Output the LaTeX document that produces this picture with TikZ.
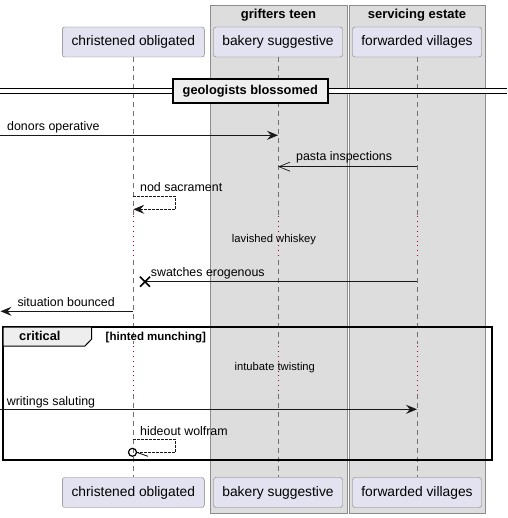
\documentclass[tikz,border=0pt]{standalone}
\usepackage{fontspec}
\setmainfont{Liberation Sans}
\usetikzlibrary{arrows.meta,calc}
\definecolor{boxfill}{HTML}{DDDDDD}
\definecolor{boxline}{HTML}{8C8C8C}
\definecolor{partfill}{HTML}{E2E2F0}
\definecolor{partline}{HTML}{7A7A7A}
\definecolor{lifeline}{HTML}{707070}
\definecolor{delayred}{HTML}{A80036}
\definecolor{tabfill}{HTML}{EEEEEE}
\begin{document}
\begin{tikzpicture}[x=1pt,y=-1pt,
  part/.style={draw=partline,fill=partfill,rounded corners=2.5pt,minimum height=30pt,inner sep=0pt,
    font=\fontsize{13.8}{15}\selectfont,text height=10pt,text depth=3pt},
  life/.style={draw=lifeline,line width=0.6pt,dash pattern=on 5pt off 4pt},
  delay/.style={draw=delayred,line width=0.9pt,dash pattern=on 0.9pt off 4pt},
  msg/.style={draw=black!90,line width=0.8pt},
  lbl/.style={anchor=base west,inner sep=0pt,font=\fontsize{12.4}{14}\selectfont},
  dlbl/.style={anchor=base,inner sep=0pt,font=\fontsize{11.2}{13}\selectfont},
  title/.style={anchor=base,inner sep=0pt,font=\fontsize{13}{15}\selectfont\bfseries},
  solidtip/.style={-{Stealth[length=11pt,width=9pt,inset=4pt]}},
  opentip/.style={-{Straight Barb[length=11pt,width=9pt,line width=0.7pt]}}
]
\useasboundingbox (0,0) rectangle (507,518);
% boxes
\draw[boxline,fill=boxfill,line width=0.8pt] (210,5) rectangle (347.5,513);
\draw[boxline,fill=boxfill,line width=0.8pt] (349,5) rectangle (485.5,513);
\node[title] (tb1) at (278.5,19) {grifters teen};
\node[title] (tb2) at (417,19) {servicing estate};
% lifelines
\foreach \x/\n in {133.3/a,278/b,417/c}{
  \draw[life] (\x,57) -- (\x,215);
  \draw[delay] (\x,216) -- (\x,260);
  \draw[life] (\x,260) -- (\x,344);
  \draw[delay] (\x,346) -- (\x,394);
  \draw[life] (\x,394) -- (\x,477);
}
% participants
\node[part,minimum width=142pt] (pa) at (133.3,42) {christened obligated};
\node[part,minimum width=129pt] (pb) at (278,42) {bakery suggestive};
\node[part,minimum width=129pt] (pc) at (417,42) {forwarded villages};
\node[part,minimum width=142pt] (qa) at (133.3,492.5) {christened obligated};
\node[part,minimum width=129pt] (qb) at (278,492.5) {bakery suggestive};
\node[part,minimum width=129pt] (qc) at (417,492.5) {forwarded villages};
% divider
\coordinate (dl1) at (0,88.5);
\coordinate (dr1) at (507,88.5);
\coordinate (dl2) at (0,93.5);
\coordinate (dr2) at (507,93.5);
\fill[white] (0,88.5) rectangle (507,93.5);
\draw[line width=0.9pt] (dl1) -- (dr1);
\draw[line width=0.9pt] (dl2) -- (dr2);
\node[draw=black,line width=1.4pt,fill=tabfill,minimum width=155pt,minimum height=24pt,inner sep=0pt,
  font=\fontsize{12.8}{14}\selectfont\bfseries,text height=9pt,text depth=2.5pt] (div) at (250.3,91) {geologists blossomed};
% message 1
\coordinate (m1s) at (0,135.3);
\coordinate (m1e) at (278,135.3);
\draw[msg,solidtip] (m1s) -- (m1e);
\node[lbl] (l1) at (7,131) {donors operative};
% message 2
\coordinate (m2s) at (417,166.7);
\coordinate (m2e) at (278,166.7);
\draw[msg,opentip] (m2s) -- (m2e);
\node[lbl] (l2) at (296,160.7) {pasta inspections};
% message 3 self
\coordinate (m3s) at (133.3,196.3);
\coordinate (m3e) at (133.3,209.3);
\draw[msg,line width=0.7pt,dash pattern=on 2.5pt off 1.5pt,solidtip] (m3s) -- (175.5,196.3) -- (175.5,209.3) -- (m3e);
\node[lbl] (l3) at (140,191.7) {nod sacrament};
% delay 1
\node[dlbl] (d1) at (274,242.7) {lavished whiskey};
% message 4 lost
\coordinate (m4s) at (417,281.7);
\coordinate (m4e) at (145,281.7);
\draw[msg] (m4s) -- (m4e);
\draw[line width=1.5pt] ($(m4e)+(-5,-5)$) -- ($(m4e)+(5,5)$) ($(m4e)+(-5,5)$) -- ($(m4e)+(5,-5)$);
\node[lbl] (l4) at (150.7,276.7) {swatches erogenous};
% message 5
\coordinate (m5s) at (133.3,311.3);
\coordinate (m5e) at (0.5,311.3);
\draw[msg,solidtip] (m5s) -- (m5e);
\node[lbl] (l5) at (17.3,306.7) {situation bounced};
% critical frame
\draw[line width=1.5pt] (3,327) rectangle (492,460);
\draw[line width=1pt,fill=tabfill] (3,327) -- (91.7,327) -- (91.7,339) -- (85,346) -- (3,346) -- cycle;
\node[anchor=base west,inner sep=0pt,font=\fontsize{12.8}{14}\selectfont\bfseries] (crit) at (19,340.5) {critical};
\node[anchor=base west,inner sep=0pt,font=\fontsize{11.5}{13}\selectfont\bfseries] (guard) at (105.5,340) {[hinted munching]};
% delay 2
\node[dlbl] (d2) at (274.8,370.7) {intubate twisting};
% message 6
\coordinate (m6s) at (0,409.3);
\coordinate (m6e) at (417,409.3);
\draw[msg,solidtip] (m6s) -- (m6e);
\node[lbl] (l6) at (6.7,405) {writings saluting};
% message 7 self with circle
\coordinate (m7s) at (133.3,439.3);
\coordinate (m7c) at (132.5,452.3);
\draw[msg,line width=0.7pt,dash pattern=on 2.5pt off 1.5pt] (m7s) -- (175.5,439.3) -- (175.5,452.3) -- (136.5,452.3);
\draw[line width=1.2pt] (m7c) circle (4pt);
\draw[line width=0.8pt] (136.5,452.3) -- (148,456.3);
\node[lbl] (l7) at (140,435) {hideout wolfram};
\end{tikzpicture}
\end{document}
